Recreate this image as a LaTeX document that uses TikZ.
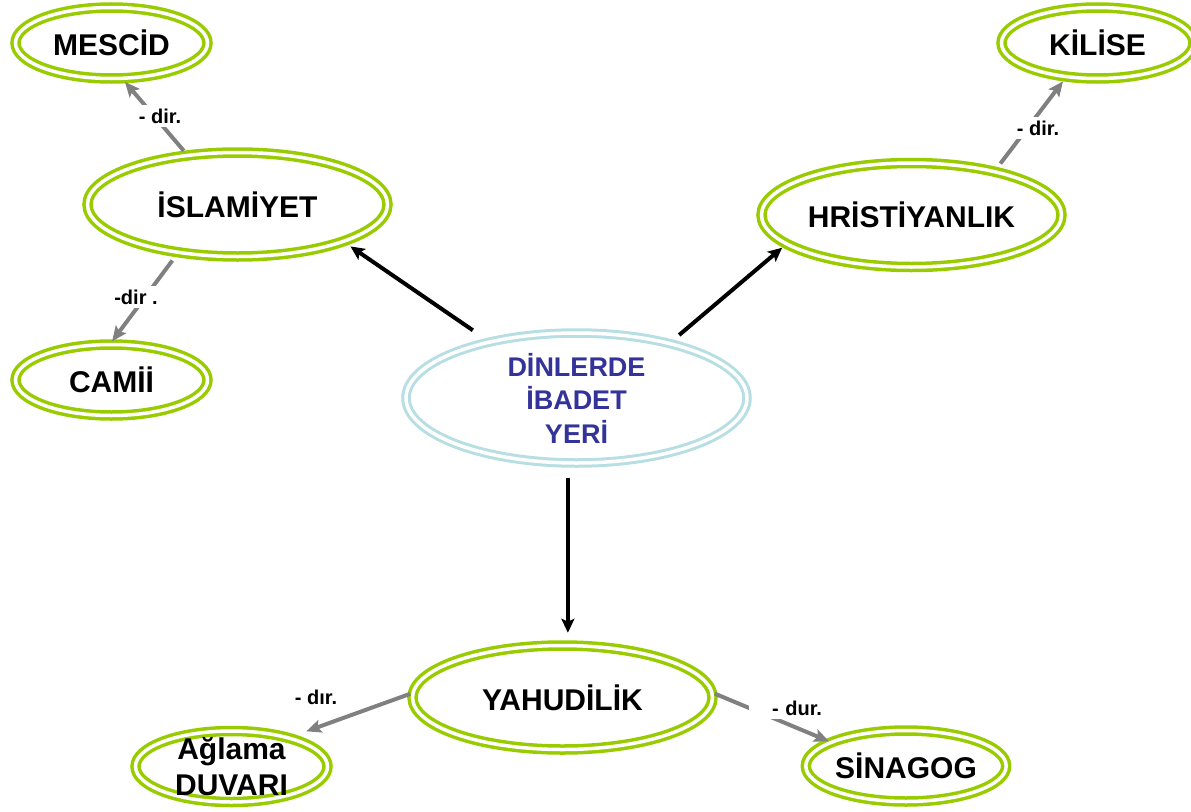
\documentclass[tikz,border=0pt]{standalone}
\usepackage{fontspec}
\setmainfont{Liberation Sans}
\usetikzlibrary{shapes.geometric,arrows.meta}
\definecolor{ringgreen}{RGB}{153,204,0}
\definecolor{ringblue}{RGB}{183,223,227}
\definecolor{titleblue}{RGB}{51,51,153}
\definecolor{linkgray}{RGB}{128,128,128}
\tikzset{
  ring/.style={ellipse, draw=ringgreen, line width=3.5pt, double=white, double distance=3.5pt,
    inner sep=0pt, outer sep=5.25pt, align=center, font=\bfseries\fontsize{30}{36}\selectfont},
  big/.style={ring, minimum width=300pt, minimum height=104pt},
  small/.style={ring, minimum width=192pt, minimum height=71pt},
  mainlink/.style={line width=4pt, -{Stealth[length=14pt,width=13pt,inset=3pt]}},
  sublink/.style={line width=4pt, linkgray, -{Stealth[length=15pt,width=13pt,inset=3pt]}},
  lbl/.style={fill=white, inner xsep=2pt, inner ysep=4pt, text=black, font=\bfseries\fontsize{20}{24}\selectfont}
}
\begin{document}
\begin{tikzpicture}[x=1pt,y=-1pt]
\useasboundingbox (0,0) rectangle (1191,811);
% orta
\node[ring, draw=ringblue, line width=3pt, minimum width=341pt, minimum height=130pt,
  text=titleblue, font=\bfseries\fontsize{27}{33.5}\selectfont] (din) at (576.5,398) {DİNLERDE\\İBADET\\YERİ};
% dinler
\node[big] (islam) at (237.5,204.5) {İSLAMİYET};
\node[big] (hris) at (911.5,215) {HRİSTİYANLIK};
\node[big] (yahud) at (562.5,697.5) {YAHUDİLİK};
% ibadet yerleri
\node[small] (mescid) at (111.5,43) {MESCİD};
\node[small] (camii) at (111.5,380) {CAMİİ};
\node[small] (kilise) at (1097.5,43) {KİLİSE};
\node[small, label={[font=\bfseries\fontsize{30}{36}\selectfont, align=center]center:{Ağlama\\DUVARI}}] (aglama) at (231.5,766.5) {};
\node[small] (sinagog) at (906,766) {SİNAGOG};
% oklar
\draw[mainlink, shorten <=14pt, shorten >=3pt] (din.147.3) -- (islam.-20.2);
\draw[mainlink, shorten <=7pt, shorten >=1pt] (din.31.4) -- (hris.194.6);
\draw[mainlink, shorten <=9.5pt, shorten >=7.5pt] (din.263.85) -- (din.263.85 |- yahud.north);
\draw[sublink, shorten >=-2pt] (islam.135.7) -- (mescid.-70) node[lbl] at (160,116) {- dir.};
\draw[sublink, shorten <=4.5pt, shorten >=-2.5pt] (islam.220.6) -- (camii.87.8) node[lbl] at (136,297) {-dir .};
\draw[sublink, shorten <=4.8pt] (hris.29) -- (kilise.-132.8) node[lbl] at (1038,128) {- dir.};
\draw[sublink, shorten <=-3pt, shorten >=11pt] (yahud.179) -- (aglama.26.4) node[lbl] at (316,697) {- dır.};
\draw[sublink, shorten <=-3pt, shorten >=-4pt] (yahud.1) -- (sinagog.162.4)
  node[lbl, text width=71pt, align=right] at (786.5,708) {- dur.};
\end{tikzpicture}
\end{document}
